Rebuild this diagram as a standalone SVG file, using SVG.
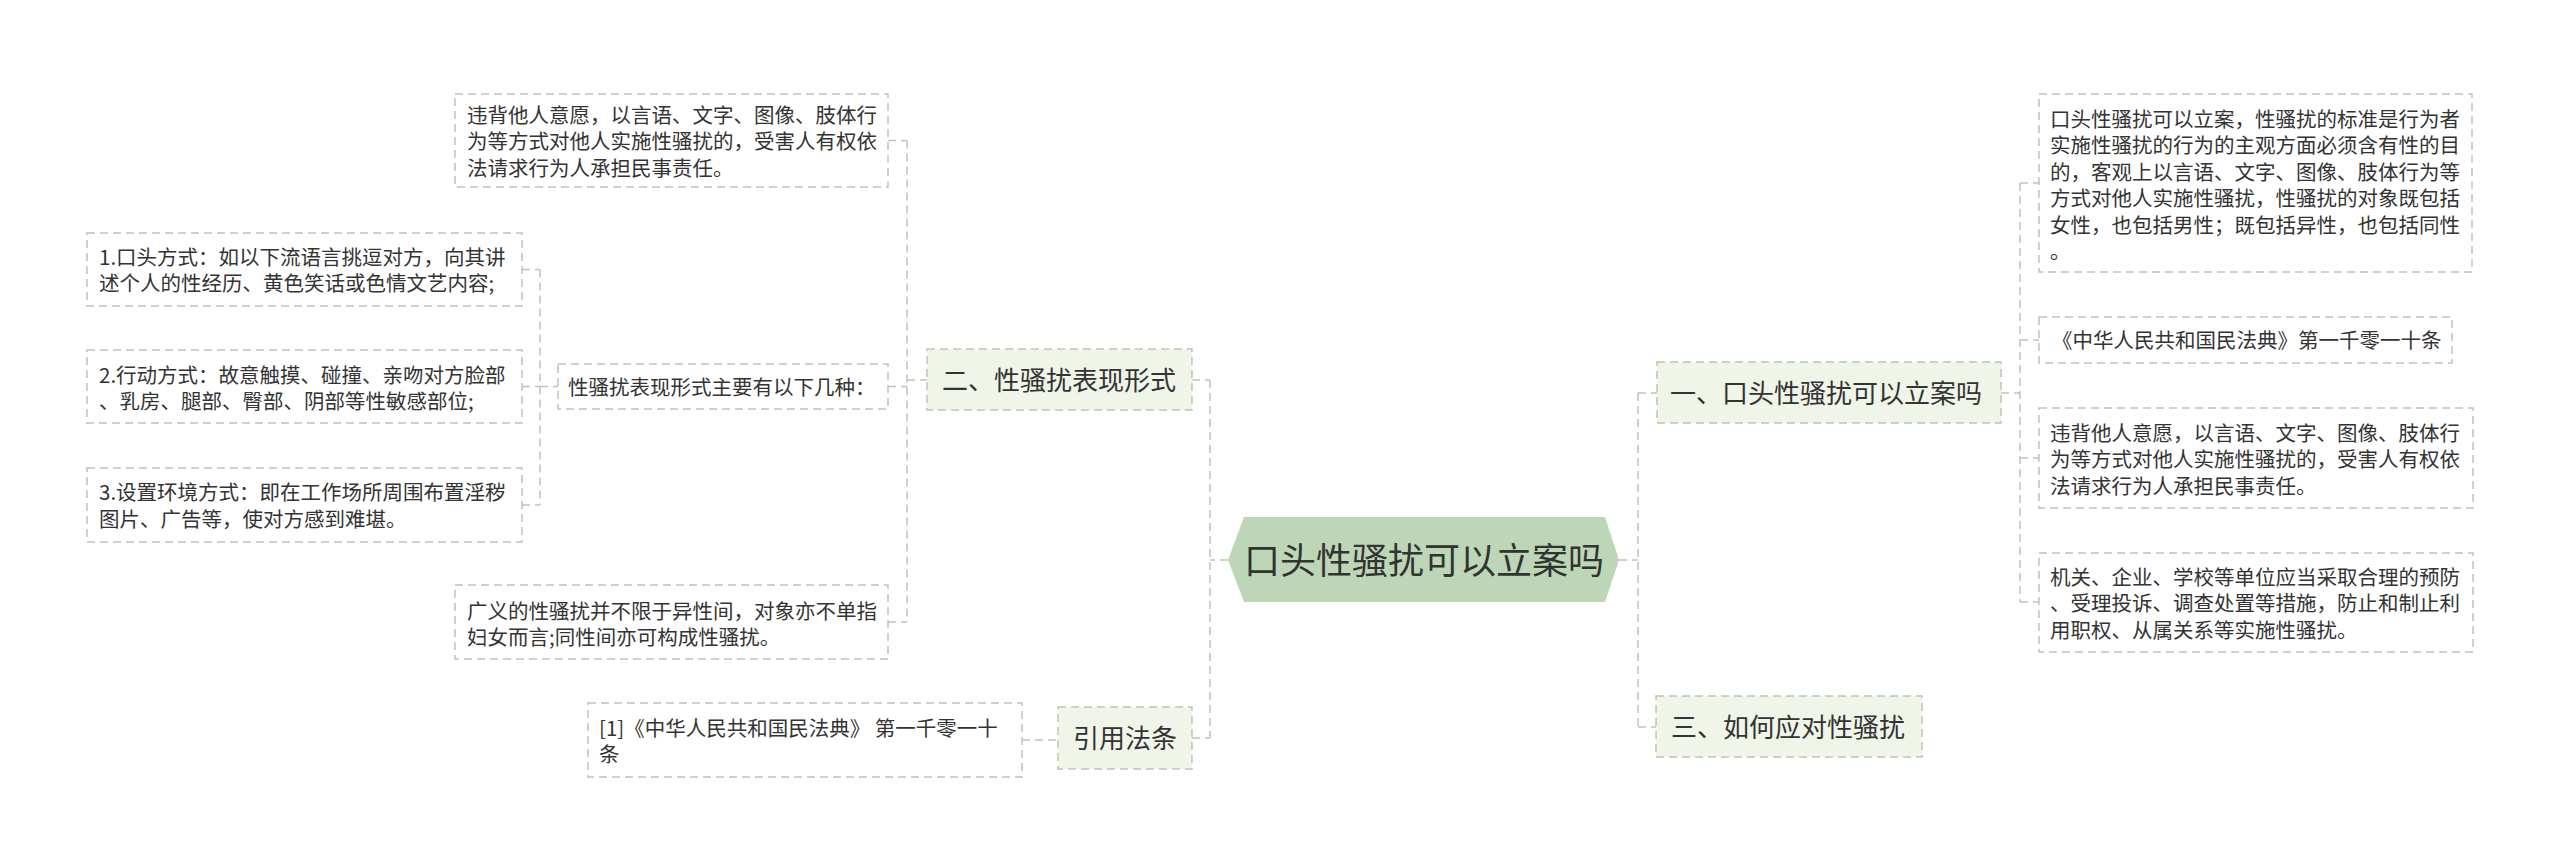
<svg xmlns="http://www.w3.org/2000/svg" width="2560" height="865" viewBox="0 0 2560 865">
<style>
text{font-family:"Noto Sans CJK SC","Microsoft YaHei",sans-serif;fill:#333333}
.t{font-size:20.5px}
.m{font-size:26px}
.r{font-size:36px}
.box{fill:#ffffff;stroke:#b9c8b2;stroke-width:1.5;stroke-dasharray:8 5}
.sub{fill:#eff5e8;stroke:#b9c8b2;stroke-width:1.5;stroke-dasharray:8 5}
.root{fill:#bdd7b6}
.c{fill:none;stroke:#b9c8b2;stroke-width:1.5;stroke-dasharray:8 5}
</style>
<rect width="2560" height="865" fill="#ffffff"/>
<g id="connectors">
<path class="c" d="M1228 560H1210M1210 380V738M1192 380H1210M1192 738H1210"/>
<path class="c" d="M907 140.5V622M888 140.5H907M888 386.5H907M888 622H907M907 380H927"/>
<path class="c" d="M540 269.5V505M522 269.5H540M522 386.5H540M522 505H540M540 386.5H558"/>
<path class="c" d="M1022 740H1058"/>
<path class="c" d="M1619 560H1638M1638 393V727M1638 393H1657M1638 727H1656"/>
<path class="c" d="M2020 183V602M2001 393H2020M2020 183H2039M2020 340H2039M2020 458H2039M2020 602H2039"/>
</g>
<g id="root">
<polygon class="root" points="1228,560 1244,517 1605,517 1619,560 1605,602 1244,602"/>
<text class="r" x="1424" y="573.5" text-anchor="middle">口头性骚扰可以立案吗</text>
</g>
<g id="n2">
<rect class="sub" x="927" y="349" width="265" height="61"/>
<text class="m" x="942" y="390">二、性骚扰表现形式</text>
</g>
<g id="nA">
<rect class="box" x="455" y="94" width="433" height="93"/>
<text class="t" x="467"><tspan x="467" y="122.8">违背他人意愿，以言语、文字、图像、肢体行</tspan><tspan x="467" y="149.3">为等方式对他人实施性骚扰的，受害人有权依</tspan><tspan x="467" y="175.8">法请求行为人承担民事责任。</tspan></text>
</g>
<g id="nE">
<rect class="box" x="558" y="364" width="330" height="45"/>
<text class="t" x="568" y="394.8">性骚扰表现形式主要有以下几种：</text>
</g>
<g id="nB">
<rect class="box" x="87" y="233" width="435" height="73"/>
<text class="t"><tspan x="99" y="264.8">1.口头方式：如以下流语言挑逗对方，向其讲</tspan><tspan x="99" y="291.3">述个人的性经历、黄色笑话或色情文艺内容;</tspan></text>
</g>
<g id="nC">
<rect class="box" x="87" y="350" width="435" height="73"/>
<text class="t"><tspan x="99" y="382.8">2.行动方式：故意触摸、碰撞、亲吻对方脸部</tspan><tspan x="99" y="409.3">、乳房、腿部、臀部、阴部等性敏感部位;</tspan></text>
</g>
<g id="nD">
<rect class="box" x="87" y="468" width="435" height="74"/>
<text class="t"><tspan x="99" y="500.3">3.设置环境方式：即在工作场所周围布置淫秽</tspan><tspan x="99" y="526.8">图片、广告等，使对方感到难堪。</tspan></text>
</g>
<g id="nF">
<rect class="box" x="455" y="585" width="433" height="74"/>
<text class="t"><tspan x="467" y="618.8">广义的性骚扰并不限于异性间，对象亦不单指</tspan><tspan x="467" y="645.3">妇女而言;同性间亦可构成性骚扰。</tspan></text>
</g>
<g id="n3">
<rect class="sub" x="1058" y="707" width="134" height="62"/>
<text class="m" x="1073" y="748">引用法条</text>
</g>
<g id="nI">
<rect class="box" x="588" y="703" width="434" height="74"/>
<text class="t"><tspan x="599" y="735.8">[1]《中华人民共和国民法典》 第一千零一十</tspan><tspan x="599" y="762.3">条</tspan></text>
</g>
<g id="n1">
<rect class="sub" x="1657" y="362" width="344" height="61"/>
<text class="m" x="1670" y="403">一、口头性骚扰可以立案吗</text>
</g>
<g id="n4">
<rect class="sub" x="1656" y="696" width="266" height="61"/>
<text class="m" x="1671" y="737">三、如何应对性骚扰</text>
</g>
<g id="nL">
<rect class="box" x="2039" y="94" width="433" height="178"/>
<text class="t"><tspan x="2050" y="126.8">口头性骚扰可以立案，性骚扰的标准是行为者</tspan><tspan x="2050" y="153.3">实施性骚扰的行为的主观方面必须含有性的目</tspan><tspan x="2050" y="179.8">的，客观上以言语、文字、图像、肢体行为等</tspan><tspan x="2050" y="206.3">方式对他人实施性骚扰，性骚扰的对象既包括</tspan><tspan x="2050" y="232.8">女性，也包括男性；既包括异性，也包括同性</tspan><tspan x="2050" y="259.3">。</tspan></text>
</g>
<g id="nM">
<rect class="box" x="2039" y="317" width="413" height="46"/>
<text class="t" x="2052" y="347.8">《中华人民共和国民法典》第一千零一十条</text>
</g>
<g id="nN">
<rect class="box" x="2039" y="408" width="434" height="100"/>
<text class="t"><tspan x="2050" y="440.8">违背他人意愿，以言语、文字、图像、肢体行</tspan><tspan x="2050" y="467.3">为等方式对他人实施性骚扰的，受害人有权依</tspan><tspan x="2050" y="493.8">法请求行为人承担民事责任。</tspan></text>
</g>
<g id="nO">
<rect class="box" x="2039" y="553" width="434" height="99"/>
<text class="t"><tspan x="2050" y="584.8">机关、企业、学校等单位应当采取合理的预防</tspan><tspan x="2050" y="611.3">、受理投诉、调查处置等措施，防止和制止利</tspan><tspan x="2050" y="637.8">用职权、从属关系等实施性骚扰。</tspan></text>
</g>
</svg>
